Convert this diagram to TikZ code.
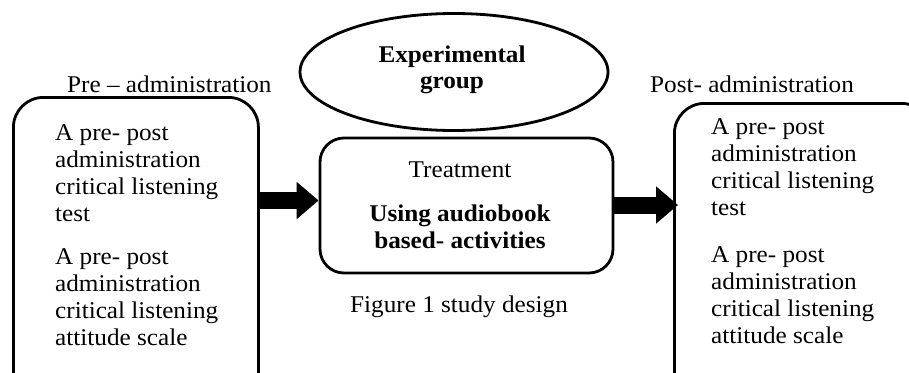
\documentclass[tikz,border=0pt]{standalone}
\usepackage{fontspec}
\setmainfont{Liberation Serif}[FakeStretch=1.05]
\usetikzlibrary{arrows.meta,shapes.geometric}
\begin{document}
\begin{tikzpicture}[x=1pt,y=-1pt,
  box/.style={draw, line width=2.8pt, rounded corners=30pt, inner sep=0pt},
  txt/.style={inner sep=0pt, font=\fontsize{24}{27}\selectfont},
  bold/.style={txt, font=\fontsize{24}{27}\selectfont\bfseries},
  bigarrow/.style={line width=17pt, -{Triangle[length=22pt,width=36pt]}}]
\useasboundingbox (0,0) rectangle (909,372);
\clip (0,0) rectangle (909,372);
% shapes
\node[box, minimum width=245pt, minimum height=330pt, anchor=north west] (pre) at (12,96) {};
\node[box, minimum width=257pt, minimum height=330pt, anchor=north west] (post) at (673,102) {};
\node[box, rounded corners=24pt, minimum width=293pt, minimum height=135pt] (treat) at (466.5,205.5) {};
\node[draw, line width=2.8pt, ellipse, minimum width=308pt, minimum height=117pt, inner sep=0pt] (grp) at (454,72) {};
% arrows
\coordinate (ay) at (0,200.5);
\draw[bigarrow] (pre.east |- ay) -- (treat.west |- ay);
\coordinate (by) at (0,205);
\draw[bigarrow, shorten >=-5pt] (treat.east |- by) -- (post.west |- by);
% labels
\node[txt, anchor=base west] (prelab) at (67,92) {Pre – administration};
\node[txt, anchor=base west] (postlab) at (650,92) {Post- administration};
\node[bold, anchor=base] (g1) at (452,62) {Experimental};
\node[bold, anchor=base] (g2) at (452,88) {group};
\node[txt, anchor=base] (t1) at (460,177) {Treatment};
\node[bold, anchor=base] (t2) at (460,221) {Using audiobook};
\node[bold, anchor=base] (t3) at (460,248) {based- activities};
\node[txt, anchor=base west] (cap) at (350,312) {Figure 1 study design};
% box texts
\foreach \t [count=\i] in {A pre- post, administration, critical listening, test}{
  \node[txt, anchor=base west] (pa\i) at (55,{140+27*(\i-1)}) {\t};
  \node[txt, anchor=base west] (qa\i) at (711,{134+27*(\i-1)}) {\t};
}
\foreach \t [count=\i] in {A pre- post, administration, critical listening, attitude scale}{
  \node[txt, anchor=base west] (pb\i) at (55,{264+27*(\i-1)}) {\t};
  \node[txt, anchor=base west] (qb\i) at (711,{262+27*(\i-1)}) {\t};
}
\end{tikzpicture}
\end{document}
